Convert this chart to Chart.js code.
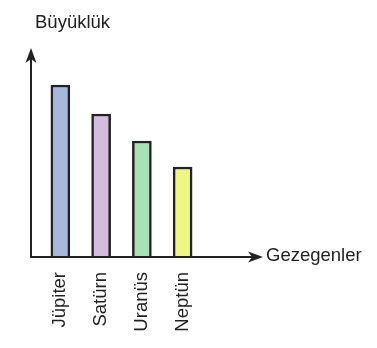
<!DOCTYPE html>
<html>
<head>
<meta charset="utf-8">
<script src="https://cdn.jsdelivr.net/npm/chart.js@4"></script>
<style>
  html, body { margin: 0; padding: 0; background: #fff; }
  #wrap { width: 377px; height: 348px; }
</style>
</head>
<body>
<div id="wrap"><canvas id="planetChart"></canvas></div>
<script>
// data
const planets = ["Jüpiter", "Satürn", "Uranüs", "Neptün"];
const sizes = [172, 143, 116, 90];
const barColors = ["#a7b8dc", "#d3bcdc", "#a8e1b5", "#eef780"];
const yTitle = "Büyüklük";
const xTitle = "Gezegenler";

const ink = "#222";
const font = "Liberation Sans, Arial, sans-serif";

function arrowHead(ctx, x, y, dir) {
    // dir: "up" or "right", notched filled head
    ctx.save();
    ctx.translate(x, y);
    if (dir === "up") ctx.rotate(-Math.PI / 2);
    ctx.beginPath();
    ctx.moveTo(0, 0);
    ctx.lineTo(-15, -5.5);
    ctx.lineTo(-11, 0);
    ctx.lineTo(-15, 5.5);
    ctx.closePath();
    ctx.fillStyle = ink;
    ctx.fill();
    ctx.restore();
}

// axes with arrows and the two axis titles
const axesPlugin = {
    id: "axesArrows",
    afterDatasetsDraw(chart) {
        const ctx = chart.ctx;
        const area = chart.chartArea;
        const ox = area.left - 9;
        const oy = area.bottom;
        ctx.save();
        ctx.strokeStyle = ink;
        ctx.lineWidth = 2;
        ctx.beginPath();
        ctx.moveTo(ox, oy);
        ctx.lineTo(ox, 52);
        ctx.moveTo(ox - 1, oy);
        ctx.lineTo(259, oy);
        ctx.stroke();
        arrowHead(ctx, ox, 48, "up");
        arrowHead(ctx, 263, oy, "right");

        ctx.fillStyle = ink;
        ctx.font = "18.5px " + font;
        ctx.textBaseline = "middle";
        ctx.textAlign = "left";
        ctx.fillText(yTitle, 35, 23);
        ctx.fillText(xTitle, 266, oy - 1);
        ctx.restore();
    }
};

document.addEventListener("DOMContentLoaded", () => {
    const ctx = document.getElementById("planetChart").getContext("2d");

    new Chart(ctx, {
        type: "bar",
        data: {
            labels: planets,
            datasets: [
                {
                    data: sizes,
                    backgroundColor: barColors,
                    borderColor: ink,
                    borderWidth: 2.5,
                    barThickness: 19,
                },
            ],
        },
        options: {
            responsive: true,
            maintainAspectRatio: false,
            animation: false,
            events: [],
            layout: {
                padding: { top: 57, left: 40, right: 174, bottom: 0 },
            },
            plugins: {
                legend: { display: false },
                tooltip: { enabled: false },
            },
            scales: {
                x: {
                    offset: true,
                    grid: { display: false, drawTicks: false },
                    border: { display: false },
                    ticks: {
                        color: ink,
                        font: { family: font, size: 18.5 },
                        minRotation: 90,
                        maxRotation: 90,
                        padding: 15,
                    },
                    afterFit(scale) {
                        scale.height = 91;
                    },
                },
                y: {
                    display: false,
                    min: 0,
                    max: 200,
                },
            },
        },
        plugins: [axesPlugin],
    });
});
</script>
</body>
</html>
